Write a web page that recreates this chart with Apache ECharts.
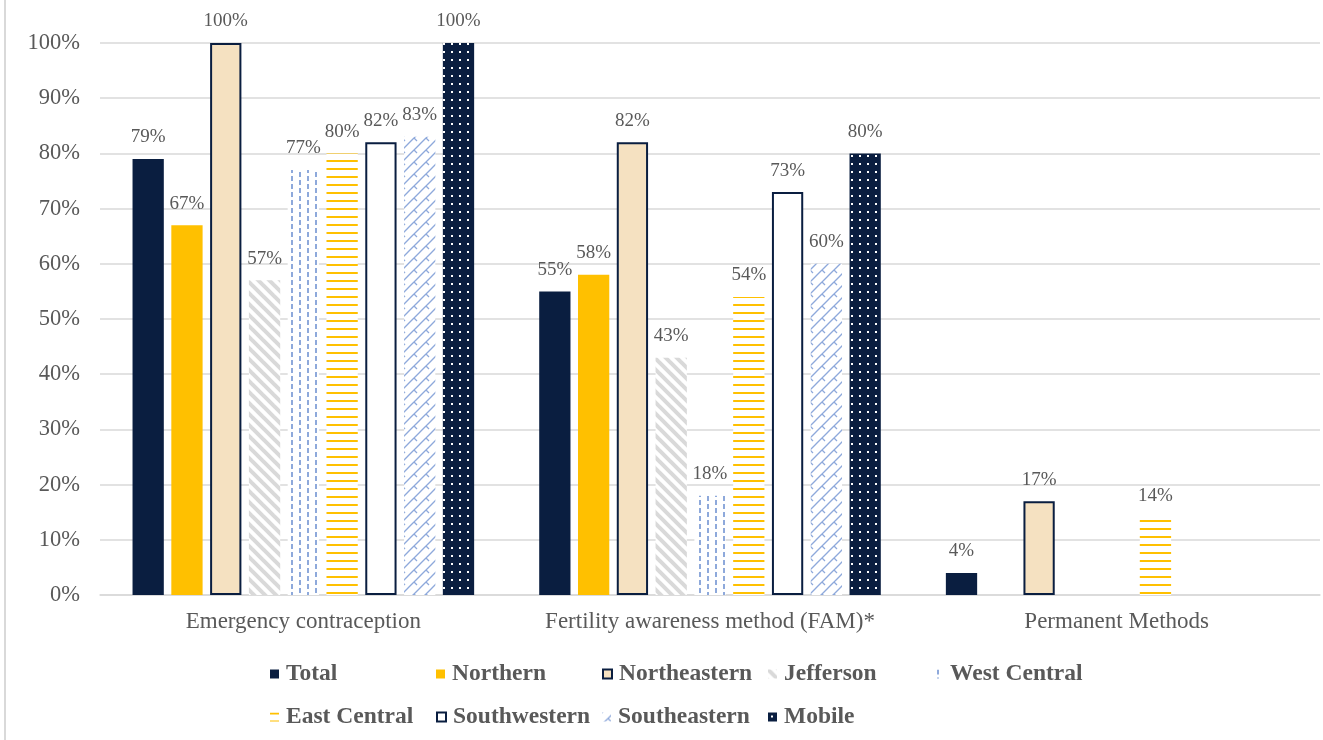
<!DOCTYPE html>
<html>
<head>
<meta charset="utf-8">
<title>Contraceptive methods by region</title>
<script src="https://cdn.jsdelivr.net/npm/echarts@6/dist/echarts.min.js"></script>
<style>
  html, body { margin: 0; padding: 0; background: #ffffff; }
  #chart { width: 1323px; height: 740px; }
</style>
</head>
<body>
<div id="chart"></div>
<script>
// Method categories on the x axis
const categories = ['Emergency contraception', 'Fertility awareness method (FAM)*', 'Permanent Methods'];

// Percent of respondents per region (null = no bar)
const total        = [79, 55, 4];
const northern     = [67, 58, null];
const northeastern = [100, 82, 17];
const jefferson    = [57, 43, null];
const westCentral  = [77, 18, null];
const eastCentral  = [80, 54, 14];
const southwestern = [82, 73, null];
const southeastern = [83, 60, null];
const mobile       = [100, 80, null];

const seriesNames = ['Total', 'Northern', 'Northeastern', 'Jefferson', 'West Central',
                     'East Central', 'Southwestern', 'Southeastern', 'Mobile'];
const seriesValues = [total, northern, northeastern, jefferson, westCentral,
                      eastCentral, southwestern, southeastern, mobile];

const yTicks = { min: 0, max: 100, interval: 10 };

const NAVY = '#0A1E40';
const GOLD = '#FFC000';
const WHEAT = '#F5E1C1';
const LIGHT_BLUE = '#8EA9DB';
const LIGHT_GRAY = '#D9D9D9';
const TEXT = '#595959';

// Build a repeating canvas pattern fill
function pattern(w, h, bg, draw) {
  const c = document.createElement('canvas');
  c.width = w; c.height = h;
  const ctx = c.getContext('2d');
  if (bg) { ctx.fillStyle = bg; ctx.fillRect(0, 0, w, h); }
  draw(ctx);
  return { image: c, repeat: 'repeat' };
}

// wide downward diagonal stripes
const diagStripes = pattern(11, 11, '#ffffff', ctx => {
  ctx.strokeStyle = LIGHT_GRAY; ctx.lineWidth = 4;
  for (let x = -11; x <= 11; x += 11) {
    ctx.beginPath(); ctx.moveTo(x - 2, -2); ctx.lineTo(x + 13, 13); ctx.stroke();
  }
});

// staggered vertical dashes
const vertDashes = pattern(16, 8, '#ffffff', ctx => {
  ctx.fillStyle = LIGHT_BLUE;
  ctx.fillRect(3, 0, 2, 5);
  ctx.fillRect(11, 4, 2, 4);
  ctx.fillRect(11, 0, 2, 1);
});

// horizontal rules
const horizLines = pattern(8, 8, '#ffffff', ctx => {
  ctx.fillStyle = GOLD;
  ctx.fillRect(0, 0, 8, 2);
});

// zigzag diagonals
const zigzag = pattern(12, 12, '#ffffff', ctx => {
  ctx.strokeStyle = LIGHT_BLUE; ctx.lineWidth = 1.3;
  ctx.beginPath(); ctx.moveTo(0, 12); ctx.lineTo(12, 0); ctx.stroke();
  ctx.beginPath(); ctx.moveTo(-6, 6); ctx.lineTo(6, -6); ctx.stroke();
  ctx.beginPath(); ctx.moveTo(6, 18); ctx.lineTo(18, 6); ctx.stroke();
  ctx.beginPath(); ctx.moveTo(6, 6); ctx.lineTo(9, 9); ctx.stroke();
});

// small white dots on navy
const dots = pattern(8, 8, NAVY, ctx => {
  ctx.fillStyle = '#ffffff';
  ctx.fillRect(3, 3, 2, 2);
});

const styles = [
  { color: NAVY },
  { color: GOLD },
  { color: WHEAT, borderColor: NAVY, borderWidth: 2 },
  { color: diagStripes },
  { color: vertDashes },
  { color: horizLines },
  { color: '#ffffff', borderColor: NAVY, borderWidth: 2 },
  { color: zigzag },
  { color: dots }
];

const series = seriesNames.map((name, i) => ({
  name: name,
  type: 'bar',
  data: seriesValues[i],
  barGap: '24%',
  barCategoryGap: '16%',
  itemStyle: styles[i],
  label: {
    show: true,
    position: 'top',
    distance: 12,
    color: TEXT,
    fontFamily: 'Liberation Serif',
    fontSize: 19,
    formatter: p => p.value + '%'
  }
}));

// Legend laid out as a grid: five items on the first row, four on the second
const legendCols = [270, 436, 602, 768, 934];
const legendRows = [662, 705];
const legends = seriesNames.map((name, i) => ({
  data: [name],
  left: legendCols[i % 5],
  top: legendRows[Math.floor(i / 5)],
  padding: 0,
  itemWidth: 9,
  itemHeight: 9,
  itemGap: 0,
  icon: 'rect',
  textStyle: {
    color: TEXT,
    fontFamily: 'Liberation Serif',
    fontWeight: 'bold',
    fontSize: 23.5,
    padding: [0, 0, 0, 2]
  }
}));

const chart = echarts.init(document.getElementById('chart'), null, { renderer: 'canvas' });
chart.setOption({
  animation: false,
  backgroundColor: '#ffffff',
  grid: { left: 100, right: 3, top: 43, bottom: 145, containLabel: false },
  legend: legends,
  xAxis: {
    type: 'category',
    data: categories,
    axisTick: { show: false },
    axisLine: { lineStyle: { color: LIGHT_GRAY, width: 1.5 } },
    axisLabel: {
      interval: 0,
      hideOverlap: false,
      color: TEXT,
      fontFamily: 'Liberation Serif',
      fontSize: 23,
      margin: 15
    }
  },
  yAxis: {
    type: 'value',
    min: yTicks.min,
    max: yTicks.max,
    interval: yTicks.interval,
    axisLine: { show: false },
    axisTick: { show: false },
    splitLine: { lineStyle: { color: LIGHT_GRAY, width: 1.5 } },
    axisLabel: {
      color: TEXT,
      fontFamily: 'Liberation Serif',
      fontSize: 22.5,
      margin: 20,
      formatter: '{value}%'
    }
  },
  graphic: [{
    type: 'line',
    shape: { x1: 5, y1: 0, x2: 5, y2: 740 },
    style: { stroke: LIGHT_GRAY, lineWidth: 2 },
    silent: true
  }],
  series: series
});
</script>
</body>
</html>
